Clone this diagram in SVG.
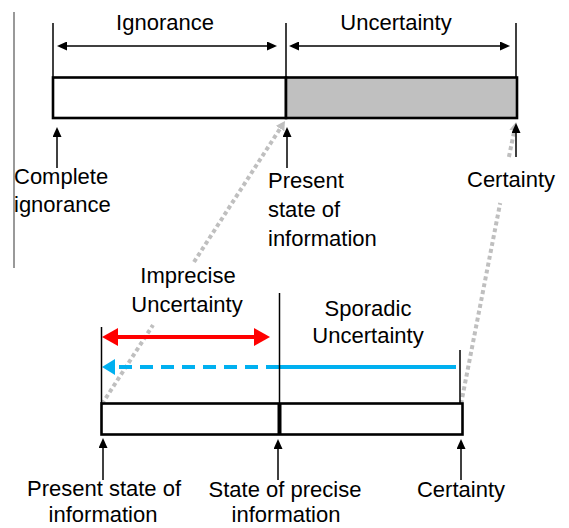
<svg xmlns="http://www.w3.org/2000/svg" width="569" height="528" viewBox="0 0 569 528">
<style>
text{font-family:"Liberation Sans",Arial,sans-serif;font-size:22px;fill:#000}
.m{text-anchor:middle}
.thin{stroke:#000;stroke-width:1.5;fill:none}
.bar{stroke:#000;stroke-width:2.6}
.dot{stroke:#bfbfbf;stroke-width:4;stroke-dasharray:4 3;fill:none}
</style>
<defs>
<marker id="ah" markerUnits="userSpaceOnUse" markerWidth="11" markerHeight="9" refX="0" refY="4.5" orient="auto-start-reverse"><path d="M0,0 L10,4.5 L0,9 z" fill="#000"/></marker>
<marker id="gh" markerUnits="userSpaceOnUse" markerWidth="10" markerHeight="10" refX="0" refY="5" orient="auto"><path d="M0,0 L9,5 L0,10 z" fill="#bfbfbf"/></marker>
<marker id="rh" markerUnits="userSpaceOnUse" markerWidth="17" markerHeight="18" refX="0" refY="9" orient="auto-start-reverse"><path d="M0,0 L16,9 L0,18 z" fill="#ff0000"/></marker>
<marker id="bh" markerUnits="userSpaceOnUse" markerWidth="14" markerHeight="16" refX="0" refY="8" orient="auto"><path d="M0,0 L13,8 L0,16 z" fill="#00b0f0"/></marker>
</defs>

<line x1="14" y1="12" x2="14" y2="268" stroke="#777" stroke-width="1.5"/>

<g id="connectors">
<line class="dot" x1="102" y1="404" x2="153" y2="325"/>
<line class="dot" x1="194" y1="262" x2="280.1" y2="128.6" marker-end="url(#gh)"/>
<line class="dot" x1="461" y1="404" x2="500.2" y2="203"/>
<line class="dot" x1="508.9" y1="157" x2="514.3" y2="130.8" marker-end="url(#gh)"/>
<line class="thin" x1="67" y1="46" x2="267" y2="46" marker-start="url(#ah)" marker-end="url(#ah)"/>
<line class="thin" x1="299" y1="46" x2="500" y2="46" marker-start="url(#ah)" marker-end="url(#ah)"/>
<line class="thin" x1="57" y1="168" x2="57" y2="137" marker-end="url(#ah)"/>
<line class="thin" x1="287" y1="168" x2="287" y2="137" marker-end="url(#ah)"/>
<line class="thin" x1="516" y1="157" x2="516" y2="133" marker-end="url(#ah)"/>
<line x1="118" y1="337" x2="254" y2="337" stroke="#ff0000" stroke-width="4" marker-start="url(#rh)" marker-end="url(#rh)"/>
<line x1="279" y1="367" x2="456" y2="367" stroke="#00b0f0" stroke-width="4"/>
<line x1="279" y1="367" x2="115" y2="367" stroke="#00b0f0" stroke-width="4" stroke-dasharray="13 8" marker-end="url(#bh)"/>
<line class="thin" x1="103" y1="480" x2="103" y2="448" marker-end="url(#ah)"/>
<line class="thin" x1="278" y1="480" x2="278" y2="449" marker-end="url(#ah)"/>
<line class="thin" x1="461" y1="480" x2="461" y2="449" marker-end="url(#ah)"/>
</g>

<g id="top-scale">
<line class="thin" x1="53" y1="23" x2="53" y2="77"/>
<line class="thin" x1="286" y1="23" x2="286" y2="77"/>
<line class="thin" x1="516" y1="23" x2="516" y2="77"/>
<rect class="bar" x="53" y="77.5" width="233" height="40.5" fill="#fff"/>
<rect class="bar" x="286" y="77.5" width="231" height="40.5" fill="#c0c0c0"/>
<text class="m" x="165" y="30">Ignorance</text>
<text class="m" x="396" y="30">Uncertainty</text>
</g>

<g id="complete-ignorance">
<text x="14" y="184">Complete</text>
<text x="14" y="212">ignorance</text>
</g>
<g id="present-state-top">
<text x="268" y="188">Present</text>
<text x="268" y="217">state of</text>
<text x="268" y="246">information</text>
</g>
<g id="certainty-top">
<text x="467" y="187">Certainty</text>
</g>

<g id="bottom-scale">
<line class="thin" x1="101.5" y1="327" x2="101.5" y2="403"/>
<line class="thin" x1="279.5" y1="293" x2="279.5" y2="403"/>
<line class="thin" x1="460" y1="350" x2="460" y2="403"/>
<rect class="bar" x="101.5" y="403.5" width="361" height="31" fill="none"/>
<line x1="279.5" y1="403" x2="279.5" y2="435" stroke="#000" stroke-width="4"/>
</g>

<g id="imprecise">
<text class="m" x="188" y="283">Imprecise</text>
<text class="m" x="187" y="312">Uncertainty</text>
</g>
<g id="sporadic">
<text class="m" x="368" y="316">Sporadic</text>
<text class="m" x="368" y="343">Uncertainty</text>
</g>

<g id="present-state-bottom">
<text class="m" x="104" y="496">Present state of</text>
<text class="m" x="103" y="522">information</text>
</g>
<g id="precise-state">
<text class="m" x="285" y="497">State of precise</text>
<text class="m" x="286" y="522">information</text>
</g>
<g id="certainty-bottom">
<text class="m" x="461" y="497">Certainty</text>
</g>
</svg>
